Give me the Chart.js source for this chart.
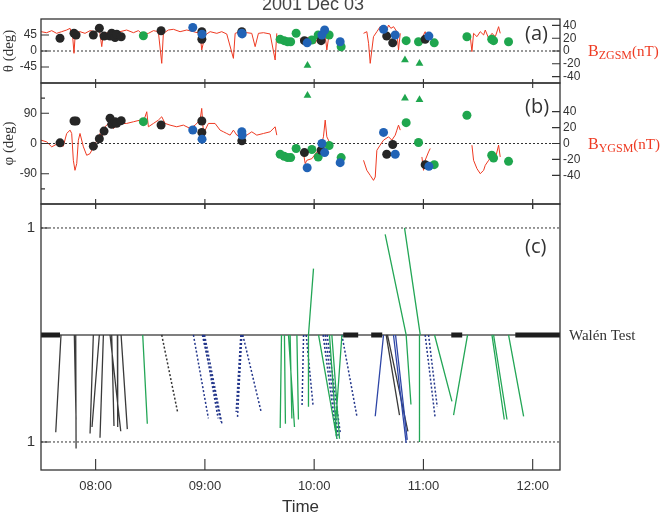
<!DOCTYPE html>
<html>
<head>
<meta charset="utf-8">
<script src="https://cdn.jsdelivr.net/npm/chart.js@4.4.1/dist/chart.umd.min.js"></script>
<style>
  html, body { margin: 0; background: #fff; }
  #wrap { position: relative; width: 660px; height: 521px; overflow: hidden; }
  #wrap canvas { position: absolute; left: 0; top: 0; }
</style>
</head>
<body>
<div id="wrap">
  <canvas id="panelA" width="660" height="521"></canvas>
  <canvas id="panelB" width="660" height="521"></canvas>
  <canvas id="panelC" width="660" height="521"></canvas>
</div>
<script>
// time axis (decimal hours UT)
const hourTicks = [8, 9, 10, 11, 12];
const hourLabels = ['08:00', '09:00', '10:00', '11:00', '12:00'];
const thetaTicks = [-45, 0, 45];
const phiTicks = [-90, 0, 90];
const phiMinor = [-135, 135];
const bTicks = [-40, -20, 0, 20, 40];
const walenTicks = [-1, 1];
const walenLabels = ['1', '1'];

// B_ZGSM (nT), null = data gap
const bzTrace = [
  [7.500, 30.2], [7.552, 28.6], [7.598, 31.8], [7.643, 27.6], [7.689, 30.2], [7.735, 32.8], [7.766, 35.4],
  [7.790, 22.4], [7.802, -3.6], [7.814, 27.6], [7.857, 30.2], [7.903, 27.6], [7.949, 31.8], [7.995, 30.2],
  [8.034, 33.9], [8.056, 6.8], [8.071, 27.6], [8.117, 28.6], [8.162, 31.8], [8.223, 30.2], [8.284, 32.8],
  [8.346, 28.6], [8.391, 31.8], [8.437, 25.0], [8.483, 27.6], [8.529, 31.8], [8.574, 30.2], [8.605, -19.3],
  [8.620, 27.6], [8.666, 32.8], [8.712, 33.9], [8.773, 30.2], [8.834, 32.8], [8.895, 30.2], [8.956, 27.6],
  [8.971, 1.6], [9.002, 25.0], [9.048, 30.2], [9.109, 27.6], [9.154, 30.2], [9.200, 26.6], [9.261, -11.5],
  [9.277, 27.6], [9.322, 30.2], [9.383, 28.6], [9.429, 27.6], [9.460, 6.8], [9.490, 27.6], [9.536, 28.6],
  [9.597, 26.6], [9.643, -14.1], [9.658, 27.6],
  null,
  [9.872, 19.8], [9.887, 14.6], [9.918, 18.2], [9.948, 21.4], [9.979, 17.2], [10.009, 12.0], [10.040, 22.4],
  [10.070, 30.2], [10.101, 25.0], [10.116, 1.6], [10.131, 19.8], [10.162, 22.4],
  null,
  [10.452, 27.6], [10.482, 30.2], [10.498, 12.0], [10.513, -19.3], [10.528, 1.6], [10.543, 22.4], [10.574, 30.2],
  [10.604, 38.0], [10.635, 39.1], [10.659, 30.2], [10.681, 40.6], [10.702, 35.4], [10.727, 38.0], [10.757, 30.2],
  [10.772, 1.6], [10.788, 27.6],
  null,
  [10.986, 12.0], [11.001, 25.0], [11.016, 30.2], [11.032, 17.2], [11.047, 22.4], [11.062, 27.6],
  null,
  [11.429, 22.4], [11.444, -1.0], [11.459, 27.6], [11.490, 22.4], [11.520, 30.2], [11.551, 25.0], [11.566, 32.8],
  [11.597, 19.8], [11.627, 27.6], [11.658, 22.4], [11.688, 38.0], [11.703, 27.6]
];

// B_YGSM (nT), null = data gap
const byTrace = [
  [7.500, 4.2], [7.552, 2.1], [7.598, -4.2], [7.643, -0.9], [7.704, -3.4], [7.735, 12.6], [7.766, 16.8],
  [7.781, 12.6], [7.796, -21.1], [7.811, -33.7], [7.827, -25.3], [7.842, 4.2], [7.857, 12.6], [7.888, -4.2],
  [7.918, -14.8], [7.949, -12.7], [7.995, 0], [8.025, 6.3], [8.040, 12.6], [8.056, 6.3], [8.086, 21.0],
  [8.117, 25.2], [8.162, 18.9], [8.223, 25.2], [8.284, 25.2], [8.346, 27.3], [8.407, 29.4], [8.437, 27.3],
  [8.468, 39.9], [8.483, 21.0], [8.529, 25.2], [8.574, 29.4], [8.605, 33.6], [8.636, 25.2], [8.681, 23.1],
  [8.742, 21.0], [8.803, 23.1], [8.865, 18.9], [8.910, 23.1], [8.956, 29.4], [8.971, 44.1], [8.987, 12.6],
  [9.032, 25.2], [9.093, 25.2], [9.139, 16.8], [9.170, 14.7], [9.200, 12.6], [9.231, 10.5], [9.261, 16.8],
  [9.292, 10.5], [9.338, 8.4], [9.383, 10.5], [9.429, 14.7], [9.475, 10.5], [9.536, 12.6], [9.597, 14.7],
  [9.643, 21.0], [9.658, 10.5],
  null,
  [9.872, -10.6], [9.903, -12.7], [9.918, -25.3], [9.933, -21.1], [9.979, -19.0], [10.024, -10.6],
  [10.055, -6.3], [10.085, 8.4], [10.101, 29.4], [10.116, 8.4], [10.146, 0],
  null,
  [10.452, -21.1], [10.482, -33.7], [10.513, -40.0], [10.543, -46.3], [10.559, -42.1], [10.574, -8.5],
  [10.604, -2.1], [10.635, 4.2], [10.681, 8.4], [10.711, 4.2], [10.742, 10.5], [10.757, 16.8], [10.772, 23.1],
  [10.788, 16.8],
  null,
  [10.986, -16.9], [11.001, -33.7], [11.016, -21.1], [11.047, -10.6], [11.062, -6.3],
  null,
  [11.444, -2.1], [11.459, -21.1], [11.490, -31.6], [11.520, -37.9], [11.551, -33.7], [11.566, -27.4],
  [11.597, -21.1], [11.627, -14.8], [11.658, -19.0], [11.688, -2.1], [11.703, -16.9]
];

// events: [time, theta (deg), phi (deg)]
const blackDots = [
  [7.674, 36, 2], [7.802, 50, 67], [7.821, 45, 67], [7.979, 45, -8], [8.034, 64, 14], [8.077, 42, 37],
  [8.132, 42, 75], [8.147, 50, 57], [8.178, 38, 65], [8.193, 47, 60], [8.234, 40, 68], [8.599, 57, 55],
  [8.972, 54, 67], [8.972, 33, 33], [9.338, 54, 8], [9.911, 29, -27], [10.064, 29, -20], [10.664, 42, -32],
  [10.719, 23, -3], [11.016, 33, -63]
];
const blueDots = [
  [8.889, 66, 40], [8.974, 47, 13], [9.338, 50, 35], [9.341, 48, 25], [9.936, 23, -72], [10.071, 45, 0],
  [10.096, 59, -27], [10.238, 26, -57], [10.635, 61, 33], [10.742, 45, -32], [11.050, 42, -68]
];
const greenDots = [
  [8.437, 43, 65], [9.689, 33, -32], [9.725, 29, -38], [9.757, 26, -42], [9.785, 26, -42], [9.835, 50, -15],
  [9.979, 31, -18], [10.037, 45, -40], [10.137, 45, -6], [10.247, 12, -42], [10.842, 29, 62], [10.955, 26, 3],
  [11.099, 23, -63], [11.398, 40, 84], [11.625, 33, -35], [11.642, 29, -43], [11.779, 26, -53]
];
const greenTriangles = [[9.939, -41, 143], [10.831, -25, 135], [10.964, -35, 130]];

// Walen test segments: [start time, end time, end value]
const walenBlack = [
  [7.683, 7.635, -0.91], [7.805, 7.821, -0.79], [7.818, 7.821, -1.06], [7.979, 7.949, -0.92],
  [8.034, 7.967, -0.86], [8.071, 8.040, -0.96], [8.132, 8.230, -0.90], [8.147, 8.168, -0.85],
  [8.199, 8.202, -0.86], [8.233, 8.290, -0.88], [10.659, 10.781, -0.75], [10.671, 10.858, -0.90]
];
const walenBlackDotted = [[8.605, 8.752, -0.73]];
const walenGreen = [
  [8.431, 8.473, -0.83], [9.701, 9.689, -0.87], [9.728, 9.737, -0.83], [9.765, 9.820, -0.86],
  [9.780, 9.796, -0.78], [9.842, 9.856, -0.79], [9.948, 9.994, 0.62], [9.948, 9.948, -0.67],
  [10.040, 10.208, -0.97], [10.140, 10.208, -0.97], [10.162, 10.232, -0.97], [10.254, 10.192, -0.89],
  [10.842, 10.886, -0.65], [10.842, 10.650, 0.94], [10.971, 10.827, 1.00], [10.964, 10.964, -1.00],
  [11.102, 11.261, -0.62], [11.404, 11.276, -0.75], [11.627, 11.740, -0.79], [11.642, 11.765, -0.79],
  [11.779, 11.917, -0.76]
];
const walenBlueDotted = [
  [8.895, 9.032, -0.78], [8.977, 9.146, -0.81], [8.986, 9.121, -0.78], [8.997, 9.158, -0.84],
  [9.338, 9.298, -0.78], [9.329, 9.286, -0.72], [9.347, 9.515, -0.72], [9.903, 9.889, -0.67],
  [9.927, 9.991, -0.67], [10.082, 10.208, -0.97], [10.101, 10.220, -0.94], [10.119, 10.238, -0.91],
  [10.254, 10.391, -0.76], [11.016, 11.108, -0.78], [11.047, 11.126, -0.67]
];
const walenBlue = [[10.635, 10.559, -0.76], [10.726, 10.842, -1.01], [10.745, 10.852, -0.98]];
// intervals that pass the test (thick bars)
const walenPass = [[7.5, 7.674], [10.266, 10.403], [10.522, 10.623], [11.255, 11.355], [11.841, 12.25]];

const X_MIN = 7.5, X_MAX = 12.25;
const INK = '#333';
const RED = '#ee3a22';
const BLACK = '#262626';
const BLUE = '#2163b6';
const GREEN = '#1fa64e';
const SANS = "'Liberation Sans', Arial, sans-serif";
const SERIF = "'Liberation Serif', 'Times New Roman', serif";

function toPoints(trace) {
  let last = X_MIN;
  return trace.map(p => {
    if (!p) return { x: last, y: null };
    last = p[0];
    return { x: p[0], y: p[1] };
  });
}
function segPoints(segs) {
  return segs.flatMap(([t0, t1, v]) => [{ x: t0, y: 0 }, { x: t1, y: v }, { x: t1, y: null }]);
}
function barPoints(spans) {
  return spans.flatMap(([t0, t1]) => [{ x: t0, y: 0 }, { x: t1, y: 0 }, { x: t1, y: null }]);
}
function dots(list, idx, color, style) {
  return {
    data: list.map(d => ({ x: d[0], y: d[idx] })),
    showLine: false, pointRadius: 4.5, pointStyle: style || 'circle',
    pointBackgroundColor: color, pointBorderWidth: 0, yAxisID: 'y'
  };
}
function line(data, color, width, dash, axis) {
  return {
    data, showLine: true, pointRadius: 0, borderColor: color, borderWidth: width,
    borderDash: dash || [], spanGaps: false, yAxisID: axis || 'y', borderCapStyle: 'butt'
  };
}

function xScale(show) {
  const sc = {
    type: 'linear', min: X_MIN, max: X_MAX, display: show,
    afterBuildTicks: s => { s.ticks = hourTicks.map(v => ({ value: v })); },
    grid: { display: false, drawTicks: false }, border: { display: false },
    ticks: { callback: (v, i) => hourLabels[i], color: INK, font: { family: SANS, size: 13 }, padding: 9, maxRotation: 0, autoSkip: false },
    title: { display: show, text: 'Time', color: INK, font: { family: SANS, size: 17 }, padding: { top: 0, bottom: 3 } }
  };
  if (show) sc.afterFit = s => { s.height = 51; };
  return sc;
}
function yScale(pos, min, max, vals, opt) {
  return {
    type: 'linear', position: pos, min, max,
    afterBuildTicks: s => { s.ticks = vals.map(v => ({ value: v })); },
    afterFit: s => { s.width = pos === 'left' ? 41 : 100; },
    grid: { display: false, drawTicks: false }, border: { display: false },
    ticks: {
      color: INK, font: { family: SANS, size: opt.size || 12 }, padding: opt.pad || (pos === 'left' ? 4 : 3),
      autoSkip: false,
      callback: (v, i) => opt.labels ? opt.labels[i] : String(v)
    },
    title: { display: !!opt.title, text: opt.title || '', color: INK, font: { family: SERIF, size: 15 }, padding: 0 }
  };
}

function drawParts(ctx, parts, x, y, color) {
  ctx.fillStyle = color;
  ctx.textAlign = 'left';
  ctx.textBaseline = 'alphabetic';
  parts.forEach(([text, size, dy]) => {
    ctx.font = size + 'px ' + SERIF;
    ctx.fillText(text, x, y + dy);
    x += ctx.measureText(text).width;
  });
}

function makeDeco(cfg) {
  return {
    id: 'deco' + cfg.letter,
    afterDatasetsDraw(chart) {
      const { ctx, chartArea: a, scales } = chart;
      ctx.save();
      ctx.strokeStyle = INK;
      ctx.lineWidth = 1.3;
      ctx.strokeRect(a.left, a.top, a.right - a.left, a.bottom - a.top);
      // tick marks drawn inward
      ctx.lineWidth = 1.1;
      ctx.beginPath();
      hourTicks.forEach(h => {
        const x = scales.x.getPixelForValue(h);
        if (cfg.topTick) { ctx.moveTo(x, a.top - cfg.topTick[0]); ctx.lineTo(x, a.top + cfg.topTick[1]); }
        if (cfg.bottomTick) { ctx.moveTo(x, a.bottom - cfg.bottomTick[0]); ctx.lineTo(x, a.bottom + cfg.bottomTick[1]); }
      });
      Object.values(scales).filter(s => s.axis === 'y').forEach(s => {
        const left = s.position === 'left';
        const x0 = left ? a.left : a.right;
        s.ticks.forEach(t => {
          const y = s.getPixelForValue(t.value);
          ctx.moveTo(x0, y);
          ctx.lineTo(x0 + (left ? 8 : -8), y);
        });
      });
      (cfg.minor || []).forEach(v => {
        const y = scales.y.getPixelForValue(v);
        ctx.moveTo(a.left, y);
        ctx.lineTo(a.left + 4, y);
      });
      ctx.stroke();

      ctx.fillStyle = INK;
      ctx.font = "20px 'Open Sans', sans-serif";
      ctx.textAlign = 'left';
      ctx.textBaseline = 'middle';
      ctx.fillText(cfg.letter, a.right - 35, a.top + cfg.letterDy);

      if (cfg.title) {
        ctx.fillStyle = '#444';
        ctx.font = '18px ' + SANS;
        ctx.textAlign = 'center';
        ctx.textBaseline = 'alphabetic';
        ctx.fillText(cfg.title, 313, 10);
      }
      if (cfg.side) {
        const s = scales[cfg.side.axis];
        drawParts(ctx, cfg.side.parts, a.right + cfg.side.dx, s.getPixelForValue(0) + 5, cfg.side.color);
      }
      ctx.restore();
    }
  };
}

const baseOptions = (padding, scales) => ({
  responsive: false, animation: false, events: [],
  layout: { padding },
  plugins: { legend: { display: false }, tooltip: { enabled: false } },
  scales
});

// panel (a): theta and Bz
new Chart(document.getElementById('panelA'), {
  type: 'line',
  data: { datasets: [
    dots(blueDots, 1, BLUE), dots(blackDots, 1, BLACK), dots(greenDots, 1, GREEN),
    dots(greenTriangles, 1, GREEN, 'triangle'),
    line(toPoints(bzTrace), RED, 1, null, 'y2'),
    line([{ x: X_MIN, y: 0 }, { x: X_MAX, y: 0 }], INK, 1, [2, 2])
  ] },
  options: baseOptions({ top: 19, bottom: 438, left: 0, right: 0 }, {
    x: xScale(false),
    y: yScale('left', -90, 90, thetaTicks, { title: 'θ (deg)' }),
    y2: yScale('right', -50, 50, bTicks, {})
  }),
  plugins: [makeDeco({
    letter: '(a)', letterDy: 15, bottomTick: [4, 5], title: '2001 Dec 03',
    side: { axis: 'y2', dx: 28, color: RED, parts: [['B', 16, 0], ['ZGSM', 12, 3], ['(nT)', 15, 0]] }
  })]
});

// panel (b): phi and By
new Chart(document.getElementById('panelB'), {
  type: 'line',
  data: { datasets: [
    dots(blueDots, 2, BLUE), dots(blackDots, 2, BLACK), dots(greenDots, 2, GREEN),
    dots(greenTriangles, 2, GREEN, 'triangle'),
    line(toPoints(byTrace), RED, 1, null, 'y2'),
    line([{ x: X_MIN, y: 0 }, { x: X_MAX, y: 0 }], INK, 1, [2, 2])
  ] },
  options: baseOptions({ top: 83, bottom: 317, left: 0, right: 0 }, {
    x: xScale(false),
    y: yScale('left', -180, 180, phiTicks, { title: 'φ (deg)' }),
    y2: yScale('right', -76, 76, bTicks, {})
  }),
  plugins: [makeDeco({
    letter: '(b)', letterDy: 24, bottomTick: [5, 5], minor: phiMinor,
    side: { axis: 'y2', dx: 28, color: RED, parts: [['B', 16, 0], ['YGSM', 12, 3], ['(nT)', 15, 0]] }
  })]
});

// panel (c): Walen test
new Chart(document.getElementById('panelC'), {
  type: 'line',
  data: { datasets: [
    line(barPoints(walenPass), '#1e1e1e', 5),
    line(segPoints(walenGreen), '#23a656', 1.3),
    line(segPoints(walenBlue), '#2d45a6', 1.3),
    line(segPoints(walenBlack), '#3a3a3a', 1.3),
    line(segPoints(walenBlueDotted), '#22358a', 1.5, [2, 2]),
    line(segPoints(walenBlackDotted), '#333', 1.5, [2, 2]),
    line([{ x: X_MIN, y: 0 }, { x: X_MAX, y: 0 }], '#555', 1.5),
    line([{ x: X_MIN, y: 1 }, { x: X_MAX, y: 1 }], INK, 1, [2, 2]),
    line([{ x: X_MIN, y: -1 }, { x: X_MAX, y: -1 }], INK, 1, [2, 2])
  ] },
  options: baseOptions({ top: 204, bottom: 0, left: 0, right: 100 }, {
    x: xScale(true),
    y: yScale('left', -1.262, 1.224, walenTicks, { labels: walenLabels, size: 15, pad: 6 })
  }),
  plugins: [makeDeco({
    letter: '(c)', letterDy: 43, topTick: [0, 5], bottomTick: [11, 0],
    side: { axis: 'y', dx: 9, color: INK, parts: [['Walén Test', 15, 0]] }
  })]
});
</script>
</body>
</html>
